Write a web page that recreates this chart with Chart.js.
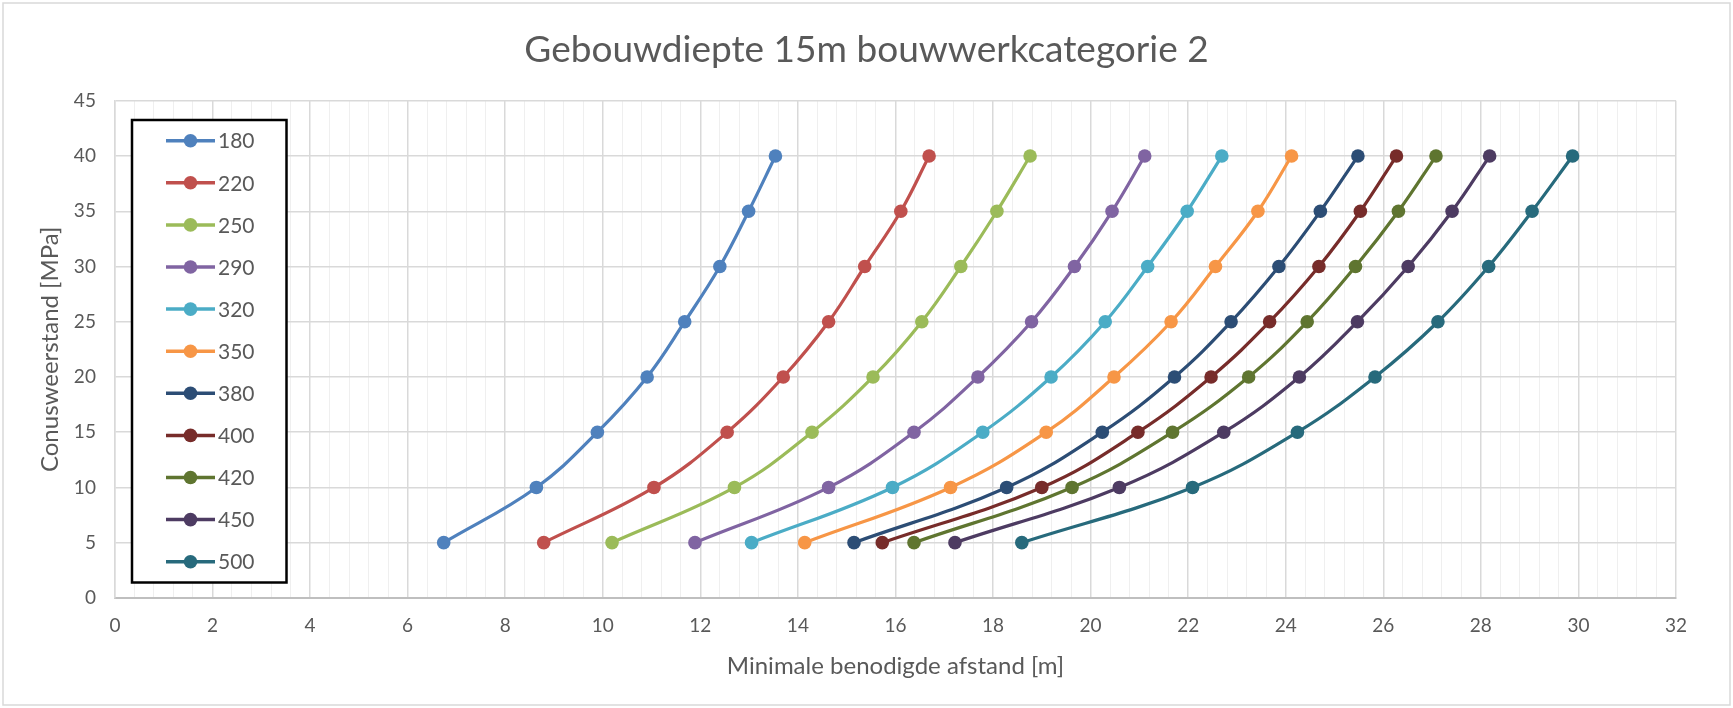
<!DOCTYPE html>
<html>
<head>
<meta charset="utf-8">
<title>Gebouwdiepte 15m bouwwerkcategorie 2</title>
<script src="https://cdn.jsdelivr.net/npm/chart.js@4/dist/chart.umd.min.js"></script>
<style>
  html, body { margin: 0; padding: 0; background: #ffffff; }
  canvas { display: block; }
</style>
</head>
<body>
<canvas id="afstandChart" width="1733" height="708"></canvas>
<script>
// data block
const seriesLabels = ['180', '220', '250', '290', '320', '350', '380', '400', '420', '450', '500'];
const conusweerstand = [5, 10, 15, 20, 25, 30, 35, 40];

const afstand180 = [6.74, 8.64, 9.89, 10.91, 11.68, 12.40, 12.99, 13.54];
const afstand220 = [8.79, 11.05, 12.55, 13.70, 14.63, 15.37, 16.11, 16.69];
const afstand250 = [10.19, 12.70, 14.29, 15.54, 16.54, 17.34, 18.08, 18.76];
const afstand290 = [11.89, 14.63, 16.38, 17.69, 18.79, 19.67, 20.44, 21.11];
const afstand320 = [13.05, 15.94, 17.79, 19.19, 20.30, 21.17, 21.98, 22.69];
const afstand350 = [14.14, 17.13, 19.09, 20.48, 21.65, 22.56, 23.43, 24.12];
const afstand380 = [15.15, 18.28, 20.24, 21.72, 22.88, 23.86, 24.71, 25.48];
const afstand400 = [15.73, 19.00, 20.97, 22.47, 23.67, 24.68, 25.53, 26.27];
const afstand420 = [16.38, 19.62, 21.68, 23.24, 24.44, 25.43, 26.31, 27.08];
const afstand450 = [17.22, 20.59, 22.73, 24.28, 25.47, 26.51, 27.41, 28.18];
const afstand500 = [18.59, 22.09, 24.24, 25.83, 27.12, 28.16, 29.05, 29.88];

const xTickLabels = ['0', '2', '4', '6', '8', '10', '12', '14', '16', '18', '20', '22', '24', '26', '28', '30', '32'];
const yTickLabels = ['0', '5', '10', '15', '20', '25', '30', '35', '40', '45'];

const allAfstand = [afstand180, afstand220, afstand250, afstand290, afstand320, afstand350,
  afstand380, afstand400, afstand420, afstand450, afstand500];

// office 2010 theme colours
const seriesColors = ['#4F81BD', '#C0504D', '#9BBB59', '#8064A2', '#4BACC6', '#F79646',
  '#2C4D75', '#772C2A', '#5F7530', '#4D3B62', '#276A7C'];

const chartTitle = 'Gebouwdiepte 15m bouwwerkcategorie 2';
const fontName = 'Lato, "Open Sans", sans-serif';
const textGray = '#595959';

const isMajor = v => Math.abs(v / 2 - Math.round(v / 2)) < 1e-6;

const datasets = seriesLabels.map((label, i) => ({
  label: label,
  data: allAfstand[i].map((x, j) => ({ x: x, y: conusweerstand[j] })),
  borderColor: seriesColors[i],
  backgroundColor: seriesColors[i],
  pointBackgroundColor: seriesColors[i],
  pointBorderColor: seriesColors[i],
  pointBorderWidth: 0,
  pointRadius: 6.8,
  borderWidth: 3.2,
  tension: 0.4,
  fill: false
}));

// legend in a box inside the plot, like excel
const boxLegend = {
  id: 'boxLegend',
  afterDatasetsDraw(chart) {
    const ctx = chart.ctx;
    ctx.save();
    ctx.fillStyle = '#ffffff';
    ctx.fillRect(132, 120, 154.5, 462.5);
    ctx.strokeStyle = '#000000';
    ctx.lineWidth = 2.5;
    ctx.strokeRect(132, 120, 154.5, 462.5);
    chart.data.datasets.forEach((ds, i) => {
      const y = 140.7 + i * 42.1;
      ctx.strokeStyle = ds.borderColor;
      ctx.lineWidth = 3.5;
      ctx.beginPath();
      ctx.moveTo(166, y);
      ctx.lineTo(215, y);
      ctx.stroke();
      ctx.fillStyle = ds.borderColor;
      ctx.beginPath();
      ctx.arc(190.5, y, 6.8, 0, Math.PI * 2);
      ctx.fill();
      ctx.fillStyle = textGray;
      ctx.font = '21px ' + fontName;
      ctx.textAlign = 'left';
      ctx.textBaseline = 'middle';
      ctx.fillText(ds.label, 218, y + 1);
    });
    ctx.restore();
  }
};

// white background, title centred on the whole canvas, light chart border
const chartFrame = {
  id: 'chartFrame',
  beforeDraw(chart) {
    const ctx = chart.ctx;
    ctx.save();
    ctx.fillStyle = '#ffffff';
    ctx.fillRect(0, 0, chart.width, chart.height);
    ctx.restore();
  },
  afterDraw(chart) {
    const ctx = chart.ctx;
    ctx.save();
    ctx.fillStyle = textGray;
    ctx.font = '37px ' + fontName;
    ctx.textAlign = 'center';
    ctx.textBaseline = 'middle';
    ctx.fillText(chartTitle, chart.width / 2, 50);
    ctx.strokeStyle = '#d9d9d9';
    ctx.lineWidth = 1.5;
    ctx.strokeRect(3, 3, 1727, 702);
    ctx.restore();
  }
};

const chartOptions = {
  responsive: false,
  animation: false,
  layout: { padding: { left: 0, right: 57, top: 100.8, bottom: 0 } },
  plugins: {
    legend: { display: false },
    tooltip: { enabled: false },
    title: { display: false }
  },
  scales: {
    x: {
      type: 'linear',
      min: 0,
      max: 32,
      afterFit(scale) { scale.height = 110.1; },
      grid: {
        drawTicks: false,
        color: c => isMajor(c.tick.value) ? '#d9d9d9' : '#efefef',
        lineWidth: c => isMajor(c.tick.value) ? 1.5 : 1
      },
      border: { color: '#bfbfbf', width: 2 },
      ticks: {
        stepSize: 0.4,
        autoSkip: false,
        maxRotation: 0,
        padding: 17,
        color: textGray,
        font: { family: fontName, size: 19 },
        callback: v => isMajor(v) ? xTickLabels[Math.round(v / 2)] : ''
      },
      title: {
        display: true,
        text: 'Minimale benodigde afstand [m]',
        color: textGray,
        font: { family: fontName, size: 24 },
        padding: { top: 0, bottom: 27 }
      }
    },
    y: {
      min: 0,
      max: 45,
      afterFit(scale) { scale.width = 114.9; },
      grid: { drawTicks: false, color: '#d9d9d9', lineWidth: 1.5 },
      border: { color: '#d9d9d9', width: 1.5 },
      ticks: {
        stepSize: 5,
        padding: 19,
        color: textGray,
        font: { family: fontName, size: 19 },
        callback: v => yTickLabels[Math.round(v / 5)]
      },
      title: {
        display: true,
        text: 'Conusweerstand [MPa]',
        color: textGray,
        font: { family: fontName, size: 24 },
        padding: { top: 36, bottom: 0 }
      }
    }
  }
};

const afstandChartConfig = {
  type: 'line',
  data: { datasets: datasets },
  options: chartOptions,
  plugins: [chartFrame, boxLegend]
};

const afstandChartRender = new Chart(document.getElementById('afstandChart'), afstandChartConfig);
</script>
</body>
</html>
